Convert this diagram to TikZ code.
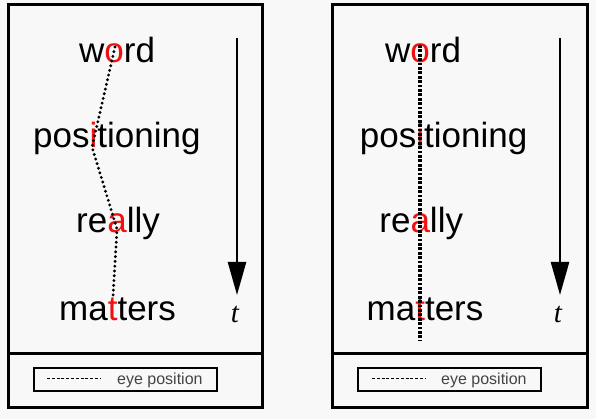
\documentclass[tikz,border=0pt]{standalone}
\usepackage{fontspec}
\setmainfont{Liberation Sans}
\newfontfamily\serifit{Liberation Serif}
\usetikzlibrary{arrows.meta}
\definecolor{bg}{HTML}{F8F8F8}
\definecolor{fixred}{HTML}{F01010}
\definecolor{legtext}{HTML}{444444}
\newcommand{\fx}[1]{\textcolor{fixred}{#1}}
\begin{document}
\begin{tikzpicture}[x=1pt,y=-1pt,
  panel/.style={draw=black,line width=3pt,fill=bg},
  legbox/.style={draw=black,line width=2.4pt,fill=bg},
  word/.style={inner sep=0pt,anchor=base west,font=\fontsize{35}{40}\selectfont},
  tlabel/.style={inner sep=0pt,anchor=base,font=\fontsize{29}{32}\serifit\itshape},
  legtxt/.style={inner sep=0pt,anchor=base west,text=legtext,font=\fontsize{16}{18}\selectfont},
  timearrow/.style={line width=2.4pt,-{Triangle[length=33pt,width=18pt]}},
  eyeleft/.style={line width=3.2pt,line cap=round,dash pattern=on 0pt off 4.8pt},
  eyeright/.style={line width=3.6pt,dash pattern=on 2.8pt off 1.6pt},
  legdash/.style={line width=1.6pt,dash pattern=on 3pt off 1.8pt}]
\useasboundingbox[fill=bg] (0,0) rectangle (596,419);
% ---------- left panel ----------
\draw[panel] (8,5) rectangle (262,407);
\draw[line width=3pt] (8,353) -- (262,353);
\node[word] (lw1) at (79,63) {w\fx{o}rd};
\node[word] (lw2) at (33,148) {pos\fx{i}tioning};
\node[word] (lw3) at (76,233) {re\fx{a}lly};
\node[word] (lw4) at (59,320) {ma\fx{t}ters};
\coordinate (lf1) at (115,47);
\coordinate (lf2) at (92,147);
\coordinate (lf3) at (117,229);
\coordinate (lf4) at (113,297);
\draw[eyeleft] (lf1) -- (lf2) -- (lf3) -- (lf4);
\coordinate (la1) at (237,38);
\coordinate (la2) at (237,295);
\draw[timearrow] (la1) -- (la2);
\node[tlabel] (lt) at (235,322) {t};
\node[legbox,minimum width=183pt,minimum height=23pt,inner sep=0pt] (lleg) at (125.5,379.5) {};
\coordinate (ld1) at (47,378.5);
\coordinate (ld2) at (101,378.5);
\draw[legdash] (ld1) -- (ld2);
\node[legtxt] (ltx) at (117,384) {eye position};
% ---------- right panel ----------
\draw[panel] (332,5) rectangle (587,407);
\draw[line width=3pt] (332,353) -- (587,353);
\node[word] (rw1) at (385,63) {w\fx{o}rd};
\node[word] (rw2) at (359.7,148) {pos\fx{i}tioning};
\node[word] (rw3) at (379.2,233) {re\fx{a}lly};
\node[word] (rw4) at (366.5,320) {ma\fx{t}ters};
\coordinate (rf1) at (420,45);
\coordinate (rf2) at (420,340);
\draw[eyeright] (rf1) -- (rf2);
\coordinate (ra1) at (560,38);
\coordinate (ra2) at (560,295);
\draw[timearrow] (ra1) -- (ra2);
\node[tlabel] (rt) at (558,322) {t};
\node[legbox,minimum width=183pt,minimum height=23pt,inner sep=0pt] (rleg) at (449.5,379.5) {};
\coordinate (rd1) at (372,378.5);
\coordinate (rd2) at (425,378.5);
\draw[legdash] (rd1) -- (rd2);
\node[legtxt] (rtx) at (441,384) {eye position};
\end{tikzpicture}
\end{document}
